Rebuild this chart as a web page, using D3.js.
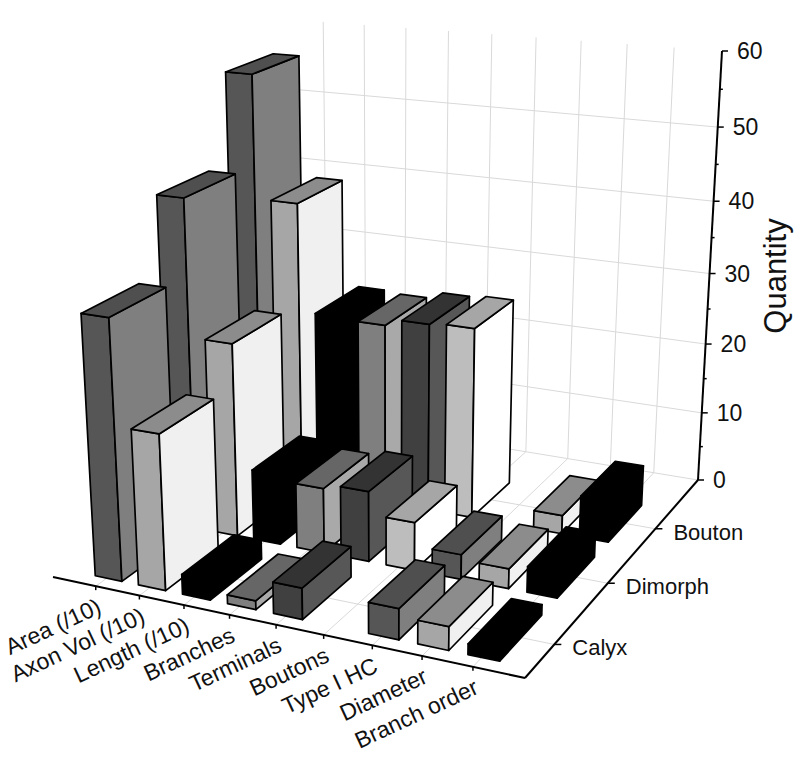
<!DOCTYPE html>
<html>
<head>
<meta charset="utf-8">
<script src="https://cdnjs.cloudflare.com/ajax/libs/d3/7.8.5/d3.min.js"></script>
<style>
  html, body { margin: 0; background: #fff; }
  text { font-family: "Liberation Sans", Arial, sans-serif; fill: #111; }
</style>
</head>
<body>
<div id="chart"></div>
<script>
const categories = ['Area (/10)', 'Axon Vol (/10)', 'Length (/10)', 'Branches', 'Terminals', 'Boutons', 'Type I HC', 'Diameter', 'Branch order']
const seriesNames = ['Calyx', 'Dimorph', 'Bouton']
const calyx = [35, 21, 2.7, 1.2, 4.2, 0, 4.1, 3.1, 1.4]
const dimorph = [45.3, 26.8, 9.8, 9, 9.7, 6.6, 3.4, 2.7, 3.5]
const bouton = [57.5, 40.7, 25.7, 25.4, 26.4, 26.7, 0, 2.6, 5.8]
const zTicks = [0, 10, 20, 30, 40, 50, 60]
const zMinorTicks = [5, 15, 25, 35, 45, 55]

// front, side, top shade of each category
const frontFill = ['#565656', '#a6a6a6', '#000', '#7f7f7f', '#404040', '#bdbdbd', '#565656', '#a6a6a6', '#000']
const sideFill = ['#7f7f7f', '#f0f0f0', '#000', '#a9a9a9', '#575757', '#fff', '#7f7f7f', '#f0f0f0', '#000']
const topFill = ['#4f4f4f', '#8c8c8c', '#000', '#666', '#333', '#a6a6a6', '#4f4f4f', '#8c8c8c', '#000']

const width = 800, height = 760

const xScale = d3.scaleLinear().domain([0, 10]).range([0, 1])
const yScale = d3.scaleLinear().domain([0.5, 4]).range([0, 1])
const zScale = d3.scaleLinear().domain([0, 60]).range([0, 1])

// box corners on screen, used to build the perspective
const A = [53, 577], B = [525, 678], C = [698, 480], D = [290, 413], E = [722, 51], F = [283, 9]

function makeCamera() {
  const dx1 = B[0] - C[0], dx2 = D[0] - C[0], sx = A[0] - B[0] + C[0] - D[0]
  const dy1 = B[1] - C[1], dy2 = D[1] - C[1], sy = A[1] - B[1] + C[1] - D[1]
  const det = dx1 * dy2 - dx2 * dy1
  const g = (sx * dy2 - dx2 * sy) / det
  const h = (dx1 * sy - sx * dy1) / det
  const a = B[0] - A[0] + g * B[0], b = D[0] - A[0] + h * D[0], c = A[0]
  const d = B[1] - A[1] + g * B[1], e = D[1] - A[1] + h * D[1], f = A[1]
  const wE = g + h + 1, wF = h + 1
  const r = (F[0] * wF - (b + c) - E[0] * wE + (a + b + c)) / (E[0] - F[0])
  const p = E[0] * (wE + r) - (a + b + c)
  const q = E[1] * (wE + r) - (d + e + f)
  return (u, v, w) => {
    const k = g * u + h * v + 1 + r * w
    return [(a * u + b * v + c + p * w) / k, (d * u + e * v + f + q * w) / k]
  }
}
const camera = makeCamera()
const project = (x, y, z) => camera(xScale(x), yScale(y), zScale(z))

const svg = d3.select('#chart').append('svg')
  .attr('width', width)
  .attr('height', height)

const line = d3.line()
const segment = (a, b) => line([a, b])

const xTicks = d3.range(1, categories.length + 1)
const yTicks = d3.range(1, seriesNames.length + 1)
const [xMin, xMax] = xScale.domain()
const [yMin, yMax] = yScale.domain()
const zMax = zScale.domain()[1]

// grid on the floor and the back wall
const grid = svg.append('g')
  .attr('fill', 'none')
  .attr('stroke', '#d9d9d9')
  .attr('stroke-width', 1)

grid.selectAll('.floor-x')
  .data(xTicks)
  .join('path')
  .attr('class', 'floor-x')
  .attr('d', d => segment(project(d, yMin, 0), project(d, yMax, 0)))

grid.selectAll('.floor-y')
  .data(yTicks)
  .join('path')
  .attr('class', 'floor-y')
  .attr('d', d => segment(project(xMin, d, 0), project(xMax, d, 0)))

grid.selectAll('.wall-x')
  .data(xTicks)
  .join('path')
  .attr('class', 'wall-x')
  .attr('d', d => segment(project(d, yMax, 0), project(d, yMax, zMax)))

grid.selectAll('.wall-z')
  .data(zTicks.slice(0, -1))
  .join('path')
  .attr('class', 'wall-z')
  .attr('d', d => segment(project(xMin, yMax, d), project(xMax, yMax, d)))

// bars, back row first so the front ones paint over them
const barWidth = 0.62, barDepth = 0.72, barShift = 0.04
const rows = [bouton, dimorph, calyx]
const bars = rows.flatMap((row, r) => row.map((value, i) => ({
  x: i + 1 + barShift,
  y: seriesNames.length - r,
  value,
  i
}))).filter(d => d.value > 0)

const facePath = pts => line(pts) + 'Z'

const barGroups = svg.append('g')
  .attr('stroke', '#000')
  .attr('stroke-width', 1.7)
  .attr('stroke-linejoin', 'round')
  .selectAll('g')
  .data(bars)
  .join('g')

barGroups.append('path')
  .attr('fill', d => frontFill[d.i])
  .attr('d', d => {
    const x0 = d.x - barWidth / 2, x1 = d.x + barWidth / 2, y0 = d.y - barDepth / 2
    return facePath([project(x0, y0, 0), project(x1, y0, 0), project(x1, y0, d.value), project(x0, y0, d.value)])
  })

barGroups.append('path')
  .attr('fill', d => sideFill[d.i])
  .attr('d', d => {
    const x1 = d.x + barWidth / 2, y0 = d.y - barDepth / 2, y1 = d.y + barDepth / 2
    return facePath([project(x1, y0, 0), project(x1, y1, 0), project(x1, y1, d.value), project(x1, y0, d.value)])
  })

barGroups.append('path')
  .attr('fill', d => topFill[d.i])
  .attr('d', d => {
    const x0 = d.x - barWidth / 2, x1 = d.x + barWidth / 2, y0 = d.y - barDepth / 2, y1 = d.y + barDepth / 2
    return facePath([project(x0, y0, d.value), project(x1, y0, d.value), project(x1, y1, d.value), project(x0, y1, d.value)])
  })

// axes
const axes = svg.append('g')
  .attr('fill', 'none')
  .attr('stroke', '#000')
  .attr('stroke-width', 2)

axes.append('path').attr('d', segment(project(xMin, yMin, 0), project(xMax, yMin, 0)))
axes.append('path').attr('d', segment(project(xMax, yMin, 0), project(xMax, yMax, 0)))
axes.append('path').attr('d', segment(project(xMax, yMax, 0), project(xMax, yMax, zMax)))

axes.selectAll('.x-tick')
  .data(xTicks)
  .join('path')
  .attr('class', 'x-tick')
  .attr('stroke-width', 1.5)
  .attr('d', d => {
    const p = project(d, yMin, 0)
    return segment(p, [p[0], p[1] + 4])
  })

axes.selectAll('.y-tick')
  .data(yTicks)
  .join('path')
  .attr('class', 'y-tick')
  .attr('stroke-width', 1.5)
  .attr('d', d => {
    const p = project(xMax, d, 0)
    return segment(p, [p[0] + 7, p[1]])
  })

axes.selectAll('.z-tick')
  .data(zTicks)
  .join('path')
  .attr('class', 'z-tick')
  .attr('stroke-width', 1.5)
  .attr('d', d => {
    const p = project(xMax, yMax, d)
    return segment(p, [p[0] + 6, p[1]])
  })

axes.selectAll('.z-minor')
  .data(zMinorTicks)
  .join('path')
  .attr('class', 'z-minor')
  .attr('stroke-width', 1.5)
  .attr('d', d => {
    const p = project(xMax, yMax, d)
    return segment(p, [p[0] + 3, p[1]])
  })

// labels
svg.append('g').selectAll('text')
  .data(categories)
  .join('text')
  .attr('font-size', 23)
  .attr('text-anchor', 'end')
  .attr('transform', (d, i) => {
    const p = project(i + 1, yMin, 0)
    return `translate(${p[0] + 7},${p[1] + 26}) rotate(-25)`
  })
  .text(d => d)

svg.append('g').selectAll('text')
  .data(seriesNames)
  .join('text')
  .attr('font-size', 22)
  .attr('x', (d, i) => project(xMax, i + 1, 0)[0] + 18)
  .attr('y', (d, i) => project(xMax, i + 1, 0)[1] + 11)
  .text(d => d)

svg.append('g').selectAll('text')
  .data(zTicks)
  .join('text')
  .attr('font-size', 23)
  .attr('x', d => project(xMax, yMax, d)[0] + 15)
  .attr('y', d => project(xMax, yMax, d)[1] + 8)
  .text(d => d)

svg.append('text')
  .attr('font-size', 31)
  .attr('text-anchor', 'middle')
  .attr('transform', 'translate(786,276) rotate(-90)')
  .text('Quantity')
</script>
</body>
</html>
